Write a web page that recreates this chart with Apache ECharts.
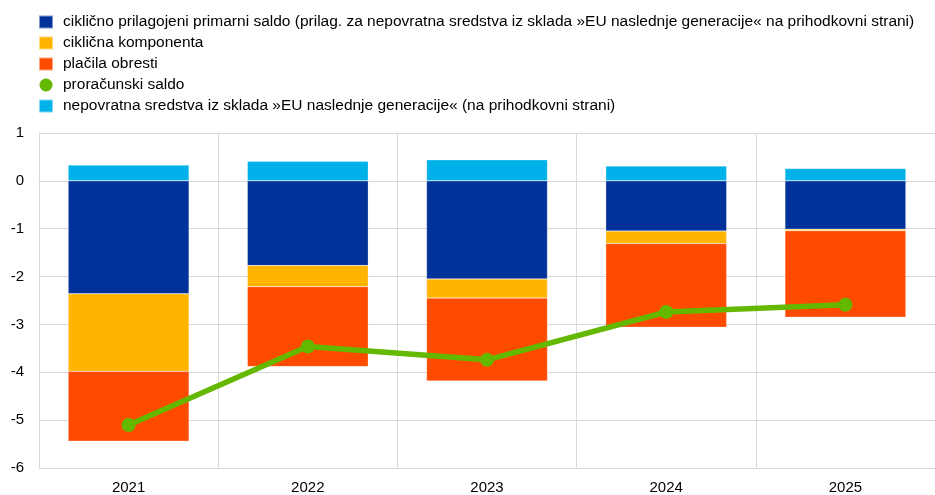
<!DOCTYPE html>
<html>
<head>
<meta charset="utf-8">
<script src="https://cdn.jsdelivr.net/npm/echarts@6/dist/echarts.min.js"></script>
<style>html,body{margin:0;padding:0;background:#fff}#c{width:935px;height:495px}</style>
</head>
<body>
<div id="c"></div>
<script>
var categories = ['2021', '2022', '2023', '2024', '2025'];
var primaryBalance = [-2.36, -1.77, -2.05, -1.05, -1.01];
var cyclical = [-1.62, -0.44, -0.40, -0.26, -0.03];
var interest = [-1.46, -1.67, -1.73, -1.75, -1.81];
var budgetBalance = [-5.10, -3.46, -3.74, -2.74, -2.59];
var ngeuGrants = [0.33, 0.41, 0.44, 0.31, 0.26];
var names = [
  'ciklično prilagojeni primarni saldo (prilag. za nepovratna sredstva iz sklada »EU naslednje generacije« na prihodkovni strani)',
  'ciklična komponenta',
  'plačila obresti',
  'proračunski saldo',
  'nepovratna sredstva iz sklada »EU naslednje generacije« (na prihodkovni strani)'
];
var yTicks = [-6, -5, -4, -3, -2, -1, 0, 1];

var chart = echarts.init(document.getElementById('c'), null, {renderer: 'canvas'});
var font = 'Liberation Sans, Arial, sans-serif';
function bar(name, data, color, stack) {
  return {
    name: name, type: 'bar', stack: stack, data: data, barWidth: '67.5%',
    itemStyle: {color: color, borderColor: 'rgba(255,255,255,0.5)', borderWidth: 0.5},
    animation: false
  };
}
chart.setOption({
  animation: false,
  textStyle: {fontFamily: font},
  legend: {
    orient: 'vertical', left: 33, top: 9,
    itemWidth: 14, itemHeight: 13, itemGap: 5,
    textStyle: {fontSize: 15.5, lineHeight: 16, color: '#000', fontFamily: font, padding: [0, 0, 0, 5]},
    data: [
      {name: names[0], icon: 'rect'},
      {name: names[1], icon: 'rect'},
      {name: names[2], icon: 'rect'},
      {name: names[3], icon: 'circle'},
      {name: names[4], icon: 'rect'}
    ]
  },
  grid: {left: 39, right: 0, top: 133, bottom: 26, containLabel: false},
  xAxis: {
    type: 'category', data: categories,
    axisLine: {lineStyle: {color: '#d9d9d9', width: 1}},
    axisTick: {show: false},
    splitLine: {show: true, lineStyle: {color: '#d9d9d9', width: 1}},
    axisLabel: {color: '#000', fontSize: 15, margin: 12, fontFamily: font}
  },
  yAxis: {
    type: 'value', min: yTicks[0], max: yTicks[yTicks.length - 1], interval: 1,
    axisLine: {show: true, lineStyle: {color: '#d9d9d9', width: 1}},
    axisTick: {show: false},
    splitLine: {lineStyle: {color: '#d9d9d9', width: 1}},
    axisLabel: {color: '#000', fontSize: 15, margin: 15, fontFamily: font}
  },
  series: [
    bar(names[0], primaryBalance, '#003299', 'neg'),
    bar(names[1], cyclical, '#FFB400', 'neg'),
    bar(names[2], interest, '#FF4B00', 'neg'),
    {
      name: names[3], type: 'line', data: budgetBalance, z: 10,
      symbol: 'circle', symbolSize: 14,
      lineStyle: {color: '#65B800', width: 5.5},
      itemStyle: {color: '#65B800'}
    },
    bar(names[4], ngeuGrants, '#00B1EA', 'neg')
  ]
});
</script>
</body>
</html>
